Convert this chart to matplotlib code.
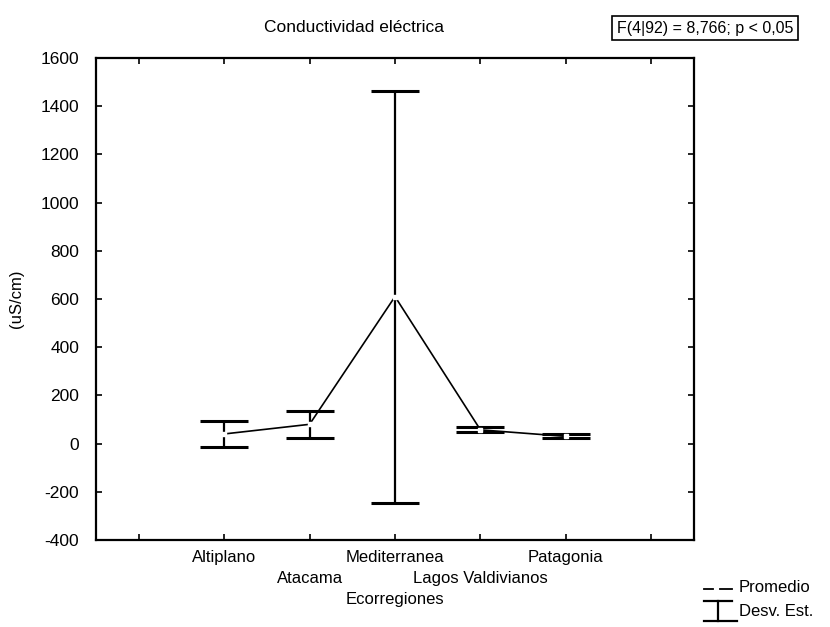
import matplotlib.pyplot as plt
from matplotlib.lines import Line2D
import numpy as np

plt.rcParams['font.family'] = ['Liberation Sans', 'DejaVu Sans']
plt.rcParams['font.size'] = 12
plt.rcParams['axes.unicode_minus'] = False

# Mean and standard deviation of electrical conductivity per ecoregion
regiones = ['Altiplano', 'Atacama', 'Mediterranea', 'Lagos Valdivianos', 'Patagonia']
promedio = [40, 80, 610, 57, 30]
desv_est = [54, 55, 855, 10, 8]
yticks = [-400, -200, 0, 200, 400, 600, 800, 1000, 1200, 1400, 1600]

x = np.arange(2, 2 + len(regiones))

fig = plt.figure(figsize=(8.3, 6.27), dpi=100)
ax = fig.add_axes([96 / 830, 1 - 540 / 627, (694 - 96) / 830, (540 - 58) / 627])

# connecting line through the means
ax.plot(x, promedio, color='black', lw=1.2, zorder=2)
# error bars (mean +/- SD)
ax.errorbar(x, promedio, yerr=desv_est, fmt='none', ecolor='black',
            elinewidth=1.6, capsize=17.5, capthick=2.2, zorder=3)
# hollow mean markers
ax.plot(x, promedio, ls='none', marker='s', ms=3, mfc='white', mec='white', zorder=4)

ax.set_xlim(0.5, 7.5)
ax.set_ylim(-400, 1600)
ax.set_yticks(yticks)
ax.set_xticks(np.arange(1, 8))
ax.set_xticklabels([])
ax.tick_params(direction='in', top=True, right=True, length=4, width=1.2,
               labelsize=12.5)
ax.tick_params(axis='y', pad=12)
for s in ax.spines.values():
    s.set_linewidth(1.6)

# category labels staggered on two rows
for i, (xi, name) in enumerate(zip(x, regiones)):
    yoff = -0.036 if i % 2 == 0 else -0.079
    ax.text(xi, yoff, name, transform=ax.get_xaxis_transform(),
            ha='center', va='center', fontsize=12)

ax.set_xlabel('Ecorregiones', labelpad=34)
ax.set_ylabel('(uS/cm)', labelpad=12)

fig.text(354 / 830, 1 - 28 / 627, 'Conductividad eléctrica', ha='center', va='center', fontsize=12.5)
fig.text(705 / 830, 1 - 28 / 627, 'F(4|92) = 8,766; p < 0,05', ha='center', va='center',
         fontsize=11.5, bbox=dict(boxstyle='square,pad=0.3', fc='white', ec='black', lw=1.2))

# legend drawn by hand outside the axes
tf = fig.transFigure
def fx(px):
    return px / 830
def fy(py):
    return 1 - py / 627

fig.add_artist(Line2D([fx(704), fx(713)], [fy(589), fy(589)], color='black', lw=1.3, transform=tf))
fig.add_artist(Line2D([fx(720), fx(732)], [fy(589), fy(589)], color='black', lw=1.3, transform=tf))
fig.add_artist(Line2D([fx(704), fx(732)], [fy(601), fy(601)], color='black', lw=1.6, transform=tf))
fig.add_artist(Line2D([fx(718), fx(718)], [fy(601), fy(621)], color='black', lw=1.6, transform=tf))
fig.add_artist(Line2D([fx(704), fx(737)], [fy(621), fy(621)], color='black', lw=1.6, transform=tf))
fig.text(fx(739), fy(588), 'Promedio', ha='left', va='center', fontsize=12)
fig.text(fx(739), fy(612), 'Desv. Est.', ha='left', va='center', fontsize=12)

fig.savefig('out.png', dpi=100)
